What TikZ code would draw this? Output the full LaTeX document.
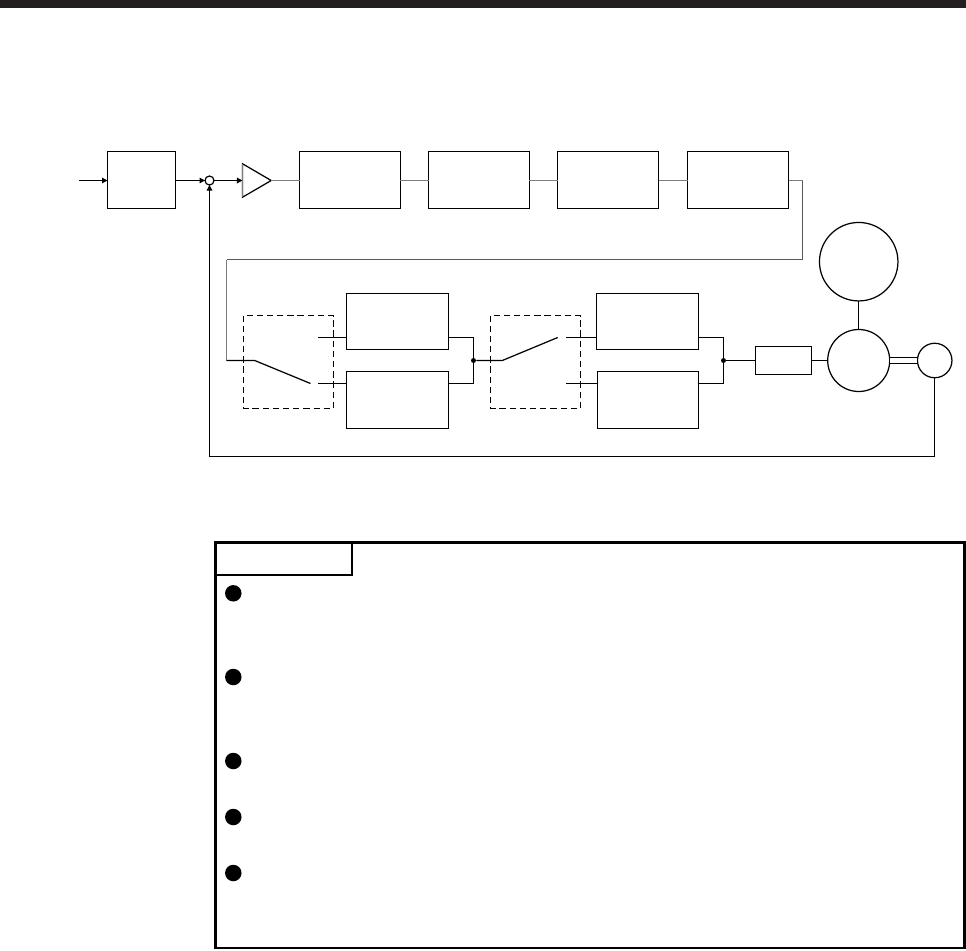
\documentclass[tikz,border=0pt]{standalone}
\usepackage{xcolor}
\usepackage{tikz}
\usetikzlibrary{arrows.meta,shapes.geometric}
\definecolor{barblack}{RGB}{35,31,32}
\definecolor{linkgray}{RGB}{125,125,125}
\definecolor{returngray}{RGB}{90,90,90}
\tikzset{
    thinline/.style={line width=0.7pt, black},
    blockbox/.style={draw, thinline, rectangle, inner sep=0pt, outer sep=0pt},
    wheel/.style={draw, thinline, circle, inner sep=0pt, outer sep=0pt},
    joint/.style={circle, fill=black, inner sep=0pt, minimum size=0.1cm},
    relaybox/.style={thinline, dashed, dash pattern=on 3.6pt off 2.2pt},
    feed/.style={thinline, -{Triangle[length=0.11cm, width=0.11cm]}},
    link/.style={line width=0.9pt, linkgray},
    bullet/.style={circle, fill=black, inner sep=0pt, minimum size=0.33cm},
}
\begin{document}
\begin{tikzpicture}[x=0.02cm, y=-0.02cm]
    \useasboundingbox (0,0) rectangle (966,950);
    \node[fill=barblack, inner sep=0pt, minimum width=19.32cm, minimum height=0.16cm] (topbar) at (483,4) {};

    \node[blockbox, minimum width=1.36cm, minimum height=1.14cm] (prefilter) at (141.5,180) {};
    \node[wheel, minimum size=0.18cm] (sum) at (209.5,180.5) {};
    \node[draw, thinline, isosceles triangle, isosceles triangle stretches, inner sep=0pt, outer sep=0pt,
      minimum width=0.67cm, minimum height=0.574cm] (amp) at (252.1,180.5) {};
    \node[blockbox, minimum width=2.02cm, minimum height=1.14cm] (stageA) at (350,180) {};
    \node[blockbox, minimum width=2.02cm, minimum height=1.14cm] (stageB) at (479,180) {};
    \node[blockbox, minimum width=2.02cm, minimum height=1.14cm] (stageC) at (608,180) {};
    \node[blockbox, minimum width=2.02cm, minimum height=1.14cm] (stageD) at (738,180) {};

    \node[blockbox, minimum width=2.04cm, minimum height=1.12cm] (upperA) at (397.5,321.5) {};
    \node[blockbox, minimum width=2.04cm, minimum height=1.14cm] (lowerA) at (397.5,400) {};
    \node[blockbox, minimum width=2.04cm, minimum height=1.12cm] (upperB) at (647.5,321.5) {};
    \node[blockbox, minimum width=2.02cm, minimum height=1.14cm] (lowerB) at (648,400) {};
    \node[joint] (jointA) at (473.5,360.5) {};
    \node[joint] (jointB) at (723.5,360.5) {};
    \node[blockbox, minimum width=1.12cm, minimum height=0.56cm] (filter) at (783.5,360.5) {};
    \node[wheel, minimum size=1.24cm] (motor) at (858.7,360.5) {};
    \node[wheel, minimum size=1.57cm] (load) at (858.7,261.7) {};
    \node[wheel, minimum size=0.69cm] (encoder) at (934.7,360.5) {};

    \draw[relaybox] (243.5,315.5) rectangle (333.5,408.5);
    \draw[relaybox] (490.5,315.5) rectangle (580.5,408.5);

    \coordinate (input) at (79,180.5);
    \coordinate (turnA) at (802.5,180.5);
    \coordinate (turnB) at (802.5,259.5);
    \coordinate (turnC) at (226.5,259.5);
    \coordinate (turnD) at (226.5,360.5);
    \coordinate (hingeA) at (254.7,360.5);
    \coordinate (bladeA) at (310.5,383.5);
    \coordinate (hingeB) at (502.3,360.5);
    \coordinate (bladeB) at (557.7,337.5);
    \coordinate (contactAu) at (318.3,337.5);
    \coordinate (contactAl) at (318.3,383.5);
    \coordinate (contactBu) at (566,337.5);
    \coordinate (contactBl) at (566,383.5);

    \draw[feed] (input) -- (input -| prefilter.west);
    \draw[feed] (sum -| prefilter.east) -- (sum.west);
    \draw[feed] (sum.east) -- (amp.west);
    \draw[feed] (encoder.south) -- ++(0,79) -| (sum.south);

    \draw[link] (amp.left corner) -- (amp.right corner);
    \draw[link] (amp.east) -- (amp -| stageA.west);
    \draw[link] (amp -| stageA.east) -- (amp -| stageB.west);
    \draw[link] (amp -| stageB.east) -- (amp -| stageC.west);
    \draw[link] (amp -| stageC.east) -- (amp -| stageD.west);
    \draw[link] (amp -| stageD.east) -- (turnA);
    \draw[line width=0.9pt, returngray] (turnA) -- (turnB) -- (turnC);
    \draw[link] (turnC) -- (turnD);

    \draw[thinline] (turnD) -- (hingeA) -- (bladeA);
    \draw[thinline] (contactAu) -- (contactAu -| upperA.west);
    \draw[thinline] (contactAl) -- (contactAl -| lowerA.west);
    \draw[thinline] (contactAu -| upperA.east) -| (jointA);
    \draw[thinline] (contactAl -| lowerA.east) -| (jointA);
    \draw[thinline] (jointA) -- (hingeB) -- (bladeB);
    \draw[thinline] (contactBu) -- (contactBu -| upperB.west);
    \draw[thinline] (contactBl) -- (contactBl -| lowerB.west);
    \draw[thinline] (contactBu -| upperB.east) -| (jointB);
    \draw[thinline] (contactBl -| lowerB.east) -| (jointB);
    \draw[thinline] (jointB) -- (filter.west);
    \draw[thinline] (filter.east) -- (motor.west);
    \draw[thinline] (load.south) -- (motor.north);
    \draw[line width=0.7pt, double, double distance=0.095cm] (motor.east) -- (encoder.west);

    \node[draw, line width=1.5pt, inner sep=0pt, minimum width=14.98cm, minimum height=8.12cm] (noteframe) at (590,745.2) {};
    \node[draw, line width=1.1pt, anchor=north west, inner sep=0pt, minimum width=2.73cm, minimum height=0.66cm] (notetab) at (noteframe.north west) {};
    \foreach \i/\y in {1/593.3,2/677,3/761,4/817,5/873} \node[bullet] (bullet\i) at (233.3,\y) {};
\end{tikzpicture}
\end{document}
